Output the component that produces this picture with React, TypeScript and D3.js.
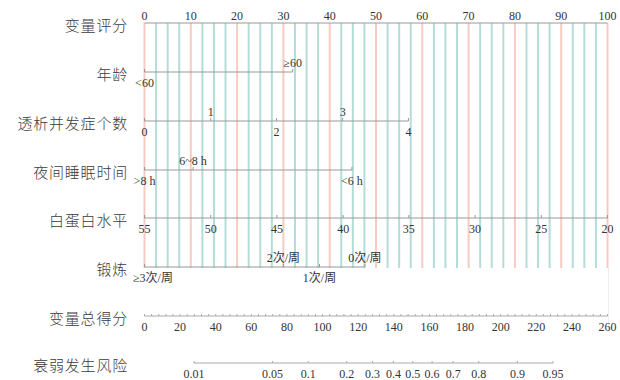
import React, { useEffect, useRef } from "react";
import * as d3 from "d3";

// row names (left column)
const rowNames = ["变量评分", "年龄", "透析并发症个数", "夜间睡眠时间", "白蛋白水平", "锻炼", "变量总得分", "衰弱发生风险"];

// top point scale
const pointTicks = [0, 10, 20, 30, 40, 50, 60, 70, 80, 90, 100];

// variables: labels + points, side: 1 above, -1 below
const ageLabels = ["<60", "≥60"];
const agePoints = [0, 32];
const ageSide = [-1, 1];

const compLabels = ["0", "1", "2", "3", "4"];
const compPoints = [0, 14.3, 28.5, 42.8, 57];
const compSide = [-1, 1, -1, 1, -1];

const sleepLabels = [">8 h", "6~8 h", "<6 h"];
const sleepPoints = [0, 10.5, 44.8];
const sleepSide = [-1, 1, -1];

const albuminLabels = ["55", "50", "45", "40", "35", "30", "25", "20"];
const albuminPoints = [0, 14.3, 28.6, 42.9, 57.1, 71.4, 85.7, 100];
const albuminSide = [-1, -1, -1, -1, -1, -1, -1, -1];

const exerciseLabels = ["≥3次/周", "2次/周", "1次/周", "0次/周"];
const exercisePoints = [0, 30, 37.8, 47.6];
const exerciseSide = [-1, 1, -1, 1];

// total points
const totalTicks = [0, 20, 40, 60, 80, 100, 120, 140, 160, 180, 200, 220, 240, 260];

// risk
const riskTicks = [0.01, 0.05, 0.1, 0.2, 0.3, 0.4, 0.5, 0.6, 0.7, 0.8, 0.9, 0.95];
const riskRange = [27.8, 229.4]; // total points at 0.01 and 0.95

const App = () => {
    const ref = useRef<SVGSVGElement>(null);

    useEffect(() => {
        const svg = d3.select(ref.current);
        svg.selectAll("*").remove();

        const x0 = 144.5, x1 = 607.5;
        const rowY = [23, 72, 121, 170, 218, 267, 316, 363];
        const latin = "'Liberation Serif', 'Noto Sans CJK SC', serif";
        const fs = 12;

        const px = d3.scaleLinear().domain([0, 100]).range([x0, x1]);
        const tx = d3.scaleLinear().domain([0, 260]).range([x0, x1]);
        const logit = (p: number) => Math.log(p / (1 - p));
        const rk = d3.scaleLinear()
            .domain([logit(riskTicks[0]), logit(riskTicks[riskTicks.length - 1])])
            .range(riskRange);

        // grid
        svg.append("g")
            .selectAll("line")
            .data(d3.range(0, 100.01, 2.5))
            .enter()
            .append("line")
            .attr("x1", d => px(d))
            .attr("x2", d => px(d))
            .attr("y1", rowY[0])
            .attr("y2", rowY[5] + 1)
            .attr("stroke", d => (d % 10 === 0 ? "#f8cbc2" : "#b4dcd9"))
            .attr("stroke-width", 2);

        svg.append("line")
            .attr("x1", x1 + 1).attr("x2", x1 + 1)
            .attr("y1", rowY[5] + 1).attr("y2", 332)
            .attr("stroke", "#eeeeee").attr("stroke-width", 1);

        // row names
        svg.append("g")
            .selectAll("text")
            .data(rowNames)
            .enter()
            .append("text")
            .attr("x", 128)
            .attr("y", (d, i) => rowY[i] + 8)
            .attr("text-anchor", "end")
            .attr("font-family", "'Noto Sans CJK SC', sans-serif")
            .attr("font-size", 15)
            .attr("font-weight", 300)
            .attr("letter-spacing", 0.8)
            .attr("fill", "#3a3a3a")
            .text(d => d);

        // top points axis
        svg.append("line")
            .attr("x1", x0).attr("x2", x1)
            .attr("y1", rowY[0]).attr("y2", rowY[0])
            .attr("stroke", "#999").attr("stroke-width", 1.2);
        svg.append("g")
            .selectAll("text")
            .data(pointTicks)
            .enter()
            .append("text")
            .attr("x", d => px(d))
            .attr("y", 20)
            .attr("text-anchor", "middle")
            .attr("font-family", latin)
            .attr("font-size", fs)
            .attr("fill", "#333")
            .text(d => d);

        const drawVar = (y: number, labels: string[], pts: number[], side: number[]) => {
            const g = svg.append("g");
            g.append("line")
                .attr("x1", px(d3.min(pts)!)).attr("x2", px(d3.max(pts)!))
                .attr("y1", y).attr("y2", y)
                .attr("stroke", "#999").attr("stroke-width", 1.2);
            g.selectAll("line.tk")
                .data(pts)
                .enter()
                .append("line")
                .attr("class", "tk")
                .attr("x1", d => px(d)).attr("x2", d => px(d))
                .attr("y1", y).attr("y2", y - 3)
                .attr("stroke", "#999");
            g.selectAll("text")
                .data(labels)
                .enter()
                .append("text")
                .attr("x", (d, i) => px(pts[i]))
                .attr("y", (d, i) => (side[i] > 0 ? y - 5 : y + 15))
                .attr("text-anchor", "middle")
                .attr("font-family", latin)
                .attr("font-size", fs)
                .attr("fill", "#333")
                .text(d => d)
                .each(function () {
                    // keep labels clear of the row names on the left
                    const el = this as SVGTextElement;
                    const w = el.getComputedTextLength();
                    const cx = +el.getAttribute("x")!;
                    if (cx - w / 2 < 133) el.setAttribute("x", String(133 + w / 2));
                });
        };

        drawVar(rowY[1], ageLabels, agePoints, ageSide);
        drawVar(rowY[2], compLabels, compPoints, compSide);
        drawVar(rowY[3], sleepLabels, sleepPoints, sleepSide);
        drawVar(rowY[4], albuminLabels, albuminPoints, albuminSide);
        drawVar(rowY[5], exerciseLabels, exercisePoints, exerciseSide);

        // total points axis
        svg.append("g")
            .attr("transform", `translate(0,${rowY[6]})`)
            .call(g => {
                g.append("line")
                    .attr("x1", x0).attr("x2", x1)
                    .attr("stroke", "#aaa").attr("stroke-width", 1.2);
                g.selectAll("line.mn")
                    .data(d3.range(0, 261, 4))
                    .enter()
                    .append("line")
                    .attr("class", "mn")
                    .attr("x1", d => tx(d)).attr("x2", d => tx(d))
                    .attr("y1", 0).attr("y2", -2)
                    .attr("stroke", "#aaa");
                g.selectAll("text")
                    .data(totalTicks)
                    .enter()
                    .append("text")
                    .attr("x", d => tx(d))
                    .attr("y", 15)
                    .attr("text-anchor", "middle")
                    .attr("font-family", latin)
                    .attr("font-size", fs)
                    .attr("fill", "#333")
                    .text(d => d);
            });

        // risk axis
        svg.append("g")
            .attr("transform", `translate(0,${rowY[7]})`)
            .call(g => {
                g.append("line")
                    .attr("x1", tx(rk(logit(riskTicks[0]))))
                    .attr("x2", tx(rk(logit(riskTicks[riskTicks.length - 1]))))
                    .attr("stroke", "#aaa").attr("stroke-width", 1.2);
                g.selectAll("line.tk")
                    .data(riskTicks)
                    .enter()
                    .append("line")
                    .attr("class", "tk")
                    .attr("x1", d => tx(rk(logit(d)))).attr("x2", d => tx(rk(logit(d))))
                    .attr("y1", 0).attr("y2", -2)
                    .attr("stroke", "#aaa");
                g.selectAll("text")
                    .data(riskTicks)
                    .enter()
                    .append("text")
                    .attr("x", d => tx(rk(logit(d))))
                    .attr("y", 15)
                    .attr("text-anchor", "middle")
                    .attr("font-family", latin)
                    .attr("font-size", fs)
                    .attr("fill", "#333")
                    .text(d => d);
            });
    }, []);

    return (
        <svg
            ref={ref}
            width={620}
            height={380}
            style={{ position: "absolute", left: 0, top: 0, background: "#fff" }}
        />
    );
};

export default App;
